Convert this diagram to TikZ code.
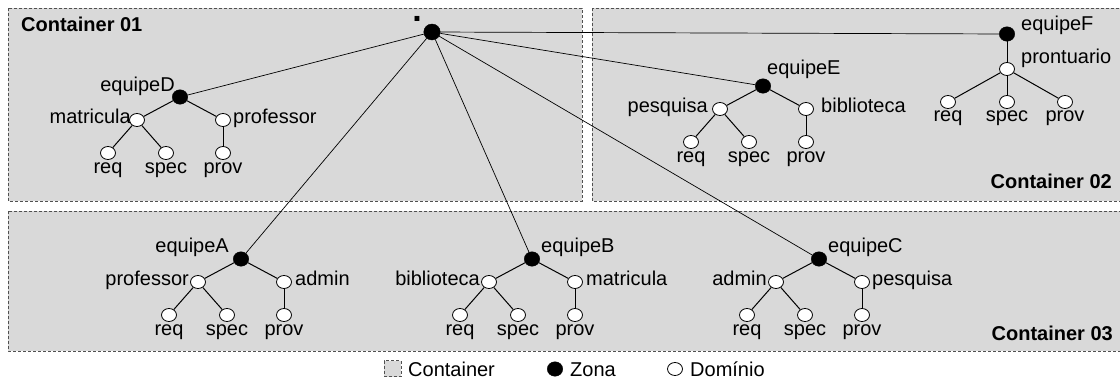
\documentclass[tikz,border=0pt]{standalone}
\usepackage{fontspec}
\setmainfont{Liberation Sans}
\usetikzlibrary{shapes.geometric}
\definecolor{boxfill}{RGB}{217,217,217}
\definecolor{boxline}{RGB}{80,80,80}
\tikzset{
  box/.style={draw=boxline, fill=boxfill, line width=0.8pt, dash pattern=on 3pt off 2pt},
  zone/.style={ellipse, draw=black, fill=black, minimum width=15.5pt, minimum height=14.5pt, inner sep=0pt},
  rootzone/.style={zone, minimum width=16.5pt, minimum height=16pt},
  dom/.style={ellipse, draw=black, fill=white, line width=0.8pt, minimum width=15pt, minimum height=13pt, inner sep=0pt},
  txt/.style={font=\fontsize{20}{24}\selectfont, inner sep=0pt},
  title/.style={font=\fontsize{20}{24}\selectfont\bfseries, inner sep=0pt},
  link/.style={line width=0.7pt},
  branch/.style={line width=1pt},
}
% Domain subtree below a zone: two domains, and req/spec/prov under them
% #1 zone name, #2 x, #3 y, #4 left domain, #5 right domain, #6/#7 label gaps
\newcommand{\domtree}[7]{%
  \node[dom] (#1-l) at ({#2-43},{#3+23}) {};
  \node[dom] (#1-r) at ({#2+43},{#3+23}) {};
  \node[dom] (#1-req) at ({#2-72},{#3+56}) {};
  \node[dom] (#1-spec) at ({#2-14},{#3+56}) {};
  \node[dom] (#1-prov) at ({#2+43},{#3+56}) {};
  \node[txt, anchor=base east] (#1-lt) at ({#2-43-#6},{#3+26}) {#4};
  \node[txt, anchor=base west] (#1-rt) at ({#2+43+#7},{#3+26}) {#5};
  \node[txt, anchor=base] (#1-reqt) at ({#2-72},{#3+76}) {req};
  \node[txt, anchor=base] (#1-spect) at ({#2-14},{#3+76}) {spec};
  \node[txt, anchor=base] (#1-provt) at ({#2+43},{#3+76}) {prov};
  \draw[branch] (#1) -- (#1-l);
  \draw[branch] (#1) -- (#1-r);
  \draw[branch] (#1-l) -- (#1-req);
  \draw[branch] (#1-l) -- (#1-spec);
  \draw[branch] (#1-r) -- (#1-prov);
}
\begin{document}
\begin{tikzpicture}[x=1pt, y=-1pt]
\useasboundingbox (0,0) rectangle (1120,378);

% containers
\draw[box] (8,8) rectangle (582,201);
\draw[box] (592,8) rectangle (1130,201);
\draw[box] (8,211) rectangle (1130,351);
\node[title, anchor=base west] (c1) at (21,31) {Container 01};
\node[title, anchor=base east] (c2) at (1112,188) {Container 02};
\node[title, anchor=base east] (c3) at (1113,340) {Container 03};

% zones
\node[rootzone] (root) at (432,32) {};
\node[font=\fontsize{34}{34}\selectfont\bfseries, inner sep=0pt, anchor=base] (roott) at (417,21.5) {.};
\node[zone] (eD) at (180,97) {};
\node[zone] (eE) at (763,86) {};
\node[zone] (eF) at (1007,34) {};
\node[zone] (eA) at (241,259) {};
\node[zone] (eB) at (532,259) {};
\node[zone] (eC) at (819,259) {};

\node[txt, anchor=base east] (eDt) at (175,91) {equipeD};
\node[txt, anchor=base west] (eEt) at (767,74) {equipeE};
\node[txt, anchor=base west] (eFt) at (1021,30) {equipeF};
\node[txt, anchor=base east] (eAt) at (229,252) {equipeA};
\node[txt, anchor=base west] (eBt) at (541,252) {equipeB};
\node[txt, anchor=base west] (eCt) at (828,252) {equipeC};

% links from the root zone
\foreach \z in {eD,eE,eF,eA,eB,eC}
  \draw[link] (root) -- (\z);

% domain subtrees
\domtree{eD}{180}{97}{matricula}{professor}{6}{10}
\domtree{eE}{763}{86}{pesquisa}{biblioteca}{12}{15}
\domtree{eA}{241}{259}{professor}{admin}{9}{11}
\domtree{eB}{532}{259}{biblioteca}{matricula}{9}{11}
\domtree{eC}{819}{259}{admin}{pesquisa}{9}{10}

% equipeF subtree
\node[dom] (eF-p) at (1007,69) {};
\node[txt, anchor=base west] (eF-pt) at (1021,63) {prontuario};
\node[dom] (eF-req) at (948,102) {};
\node[dom] (eF-spec) at (1007,102) {};
\node[dom] (eF-prov) at (1065,102) {};
\node[txt, anchor=base] (eF-reqt) at (948,121) {req};
\node[txt, anchor=base] (eF-spect) at (1007,121) {spec};
\node[txt, anchor=base] (eF-provt) at (1065,121) {prov};
\draw[branch] (eF) -- (eF-p);
\draw[branch] (eF-p) -- (eF-req);
\draw[branch] (eF-p) -- (eF-spec);
\draw[branch] (eF-p) -- (eF-prov);

% legend
\node[box, minimum width=17pt, minimum height=16pt, inner sep=0pt] (lgbox) at (392.5,368.5) {};
\node[txt, anchor=base west] (lgboxt) at (408,376) {Container};
\node[zone] (lgzone) at (555,369) {};
\node[txt, anchor=base west] (lgzonet) at (570,376) {Zona};
\node[dom] (lgdom) at (675,369) {};
\node[txt, anchor=base west] (lgdomt) at (690,376) {Domínio};
\end{tikzpicture}
\end{document}
